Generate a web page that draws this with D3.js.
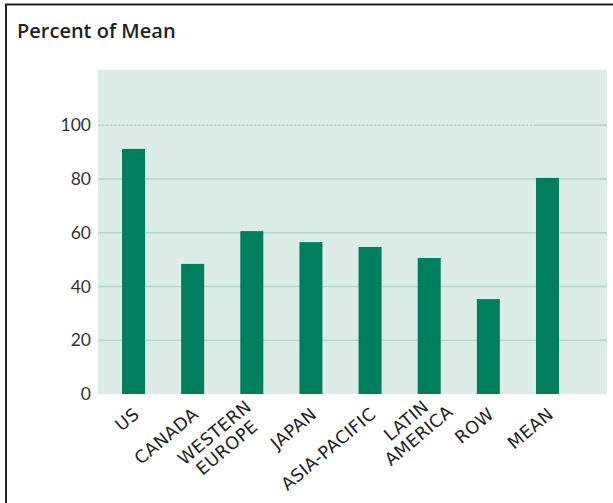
<!DOCTYPE html>
<html>
<head>
<meta charset="utf-8">
<script src="https://cdn.jsdelivr.net/npm/d3@7"></script>
<style>
  html, body { margin: 0; padding: 0; background: #fff; }
  svg { display: block; }
</style>
</head>
<body>
<script>
// Income per capita by region, as a percent of the mean
const categories = ["US", "CANADA", "WESTERN\nEUROPE", "JAPAN", "ASIA-PACIFIC", "LATIN\nAMERICA", "ROW", "MEAN"];
const values = [91.2, 48.4, 60.6, 56.5, 54.7, 50.6, 35.3, 80.4];
const yTicks = [0, 20, 40, 60, 80, 100];
const titleText = "Percent of Mean";

const W = 613, H = 503;
const plot = { left: 98, right: 607, top: 70, bottom: 394 };

const svg = d3.select("body").append("svg")
  .attr("width", W).attr("height", H);

// frame: top rule and left rule
svg.append("line").attr("x1", 5).attr("x2", W).attr("y1", 4.5).attr("y2", 4.5)
  .attr("stroke", "#222").attr("stroke-width", 2);
svg.append("line").attr("x1", 6).attr("x2", 6).attr("y1", 4).attr("y2", H)
  .attr("stroke", "#222").attr("stroke-width", 2);

svg.append("text")
  .attr("x", 17).attr("y", 38)
  .attr("font-family", "'Open Sans', sans-serif")
  .attr("font-weight", 600)
  .attr("font-size", 20)
  .attr("fill", "#222")
  .text(titleText);

const y = d3.scaleLinear().domain([0, 100]).range([plot.bottom, 125.25]);
const x = d3.scaleBand().domain(categories).range([plot.left, 583])
  .paddingInner(0.611).paddingOuter(0.406);

// panel background
svg.append("rect")
  .attr("x", plot.left).attr("y", plot.top)
  .attr("width", plot.right - plot.left).attr("height", plot.bottom - plot.top)
  .attr("fill", "#dcece6");

// gridlines
const gridColor = "#b4d8cb";
const grid = svg.append("g");
yTicks.filter(t => t > 0 && t < 100).forEach(t => {
  grid.append("line")
    .attr("x1", plot.left).attr("x2", plot.right)
    .attr("y1", y(t)).attr("y2", y(t))
    .attr("stroke", gridColor).attr("stroke-width", 1.5);
});
// top gridline: dotted across most of the panel, solid at the far right
const lastBand = x(categories[categories.length - 1]);
grid.append("line")
  .attr("x1", plot.left).attr("x2", lastBand - 2)
  .attr("y1", y(100)).attr("y2", y(100))
  .attr("stroke", "#aed3c5").attr("stroke-width", 1.5)
  .attr("stroke-dasharray", "2.5,1.5");
grid.append("line")
  .attr("x1", lastBand - 2).attr("x2", plot.right)
  .attr("y1", y(100)).attr("y2", y(100))
  .attr("stroke", gridColor).attr("stroke-width", 1.5);

// bars
svg.append("g").selectAll("rect")
  .data(values)
  .join("rect")
  .attr("x", (d, i) => x(categories[i]))
  .attr("y", d => y(d))
  .attr("width", x.bandwidth())
  .attr("height", d => y(0) - y(d))
  .attr("fill", "#007f5f");

// y axis labels
const yAxis = svg.append("g")
  .attr("transform", `translate(${plot.left - 7},0)`)
  .call(d3.axisLeft(y).tickValues(yTicks).tickSize(0).tickPadding(0));
yAxis.select(".domain").remove();
yAxis.selectAll("text")
  .attr("font-family", "Lato, sans-serif")
  .attr("font-size", 17.5)
  .attr("fill", "#333");

// x axis labels: rotated; the first line ends at the anchor, further lines
// are centred on the first line, and the whole block is centred vertically
const labelFont = "'DejaVu Sans', sans-serif";
const labelSize = 17.5;
const lineStep = 19.5;
const xl = svg.append("g");
categories.forEach(c => {
  const lines = c.split("\n");
  const n = lines.length;
  const g = xl.append("g")
    .attr("transform", `translate(${x(c) + x.bandwidth() / 2 + 7},416) rotate(-40)`);
  const t = g.append("text")
    .attr("font-family", labelFont)
    .attr("font-size", labelSize)
    .attr("letter-spacing", 0.4)
    .attr("fill", "#222")
    .attr("text-anchor", "end");
  const spans = lines.map((ln, i) => t.append("tspan")
    .attr("x", 0).attr("y", (i - (n - 1) / 2) * lineStep).text(ln));
  const widths = spans.map(s => s.node().getComputedTextLength());
  spans.forEach((s, i) => s.attr("x", (widths[i] - widths[0]) / 2));
});
</script>
</body>
</html>
